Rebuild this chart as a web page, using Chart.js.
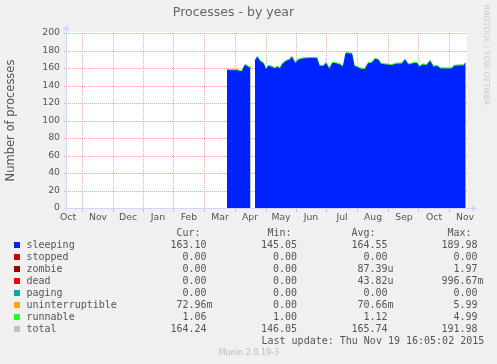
<!DOCTYPE html>
<html>
<head>
<meta charset="utf-8">
<script src="https://cdn.jsdelivr.net/npm/chart.js@4.4.1/dist/chart.umd.min.js"></script>
<style>
  html, body { margin: 0; padding: 0; background: #f0f0f0; }
</style>
</head>
<body>
<canvas id="grafico" width="497" height="364"></canvas>
<script>
// Dados do grafico (x = dias desde o inicio do periodo de um ano)
const dias = [160, 163, 170, 173, 175, 175.7, 178, 180, 182.3, 183.5, 185.5, 188, 190.3, 193, 196.3, 199, 201.3, 204.7, 208, 210.3,
  213, 215.7, 219, 222.3, 225, 228, 231.3, 236.3, 243, 249.7, 252.3, 256.3, 259, 262.3, 265.7, 269, 273, 276.3, 279, 284.7,
  287, 291.3, 294.7, 298, 301.3, 304.7, 308, 311.3, 313.7, 319.7, 324.7, 329.7, 334.7, 338, 341.3, 346.3, 349.7, 352.3, 355.7, 359.7,
  363, 366.3, 369.7, 373.7, 379.7, 384.7, 387, 393, 396.3, 398.7]
const sleeping = [157.3, 156.8, 156.8, 155.8, 155.8, 157.3, 162.8, 161.8, 159.8, 159.8, null, 167.8, 171.8, 167.3, 164.8, 157.3, 161.8, 160.8, 158.8, 160.8,
  158.8, 164.3, 167.3, 168.8, 171.8, 164.8, 168.8, 170.3, 170.8, 170.8, 161.8, 161.8, 164.8, 158.3, 165.3, 164.8, 163.3, 160.8, 176.3, 175.8,
  161.8, 159.8, 158.3, 158.3, 164.8, 165.3, 169.8, 168.8, 164.3, 163.3, 162.8, 164.3, 164.3, 168.8, 163.3, 164.8, 165.3, 160.8, 163.3, 162.8,
  167.3, 160.8, 161.8, 158.8, 158.8, 158.8, 161.8, 162.3, 162.3, 164.8]
const runnable = [1.1, 1.1, 1.1, 1.1, 1.1, 1.1, 1.2, 1.1, 1.1, 1.1, null, 1.2, 1.1, 1.1, 1.1, 1.3, 1.1, 1.1, 1.1, 1.1,
  1.1, 1.1, 1.2, 1.1, 1.1, 1.1, 1.1, 1.1, 1.2, 1.1, 1.1, 1.1, 1.1, 1.2, 1.1, 1.1, 1.1, 1.1, 1.1, 1.1,
  1.1, 1.1, 1.2, 1.1, 1.1, 1.1, 1.1, 1.1, 1.1, 1.1, 1.1, 1.1, 1.1, 1.1, 1.1, 1.1, 1.1, 1.1, 1.1, 1.1,
  1.1, 1.1, 1.1, 1.2, 1.2, 1.2, 1.1, 1.1, 1.1, 1.1]
const total = [158.5, 158, 158, 157, 157, 158.5, 164, 163, 161, 161, null, 169, 173, 168.5, 166, 158.5, 163, 162, 160, 162,
  160, 165.5, 168.5, 170, 173, 166, 170, 171.5, 172, 172, 163, 163, 166, 159.5, 166.5, 166, 164.5, 162, 177.5, 177,
  163, 161, 159.5, 159.5, 166, 166.5, 171, 170, 165.5, 164.5, 164, 165.5, 165.5, 170, 164.5, 166, 166.5, 162, 164.5, 164,
  168.5, 162, 163, 160, 160, 160, 163, 163.5, 163.5, 166]

// Eixo X: inicio de cada mes (linhas) e posicao dos rotulos
const inicioMes = [15, 45.5, 75.5, 106, 137, 168, 199, 229, 259, 290, 321, 351, 382]
const posRotulo = [1, 31, 61, 91, 122, 153, 183, 214, 244, 275, 306, 337, 367, 398]
const nomesMes = ['Oct', 'Nov', 'Dec', 'Jan', 'Feb', 'Mar', 'Apr', 'May', 'Jun', 'Jul', 'Aug', 'Sep', 'Oct', 'Nov']

// Legenda
const nomesLegenda = ['sleeping', 'stopped', 'zombie', 'dead', 'paging', 'uninterruptible', 'runnable', 'total']
const coresLegenda = ['#0022ff', '#cc0000', '#990000', '#ff0000', '#00aaaa', '#ffa500', '#22ff22', '#c0c0c0']
const valoresCur = ['163.10', '0.00', '0.00', '0.00', '0.00', '72.96m', '1.06', '164.24']
const valoresMin = ['145.05', '0.00', '0.00', '0.00', '0.00', '0.00', '1.00', '146.05']
const valoresAvg = ['164.55', '0.00', '87.39u', '43.82u', '0.00', '70.66m', '1.12', '165.74']
const valoresMax = ['189.98', '0.00', '1.97', '996.67m', '0.00', '5.99', '4.99', '191.98']

function pontos(valores) {
    let lista = []
    for (let i = 0; i < dias.length; i++) {
        lista.push({ x: dias[i], y: valores[i] })
    }
    return lista
}

const corFonte = '#555'
const corEixo = '#cfd6f8'
const gradeMaior = '#f3a9a9'
const gradeMenor = '#c8c8c8'
const nada = 'rgba(0,0,0,0)'

//Fundo cinza e area branca do grafico
const fundo = {
    id: 'fundo',
    beforeDraw(chart) {
        const c = chart.ctx, a = chart.chartArea
        c.save()
        c.fillStyle = '#f0f0f0'
        c.fillRect(0, 0, chart.width, chart.height)
        c.fillStyle = '#ffffff'
        c.fillRect(a.left, a.top - 1, a.right - a.left, a.bottom - a.top + 1)
        c.restore()
    }
}

//Grade pontilhada estilo rrdtool, nas posicoes das escalas
const grade = {
    id: 'grade',
    beforeDatasetsDraw(chart) {
        const c = chart.ctx, a = chart.chartArea
        const sx = chart.scales.x, sy = chart.scales.y
        c.save()
        // linhas horizontais
        sy.ticks.forEach(t => {
            if (t.value === 0) return
            const py = Math.round(sy.getPixelForValue(t.value))
            const maior = t.value % 20 === 0
            c.fillStyle = maior ? gradeMaior : gradeMenor
            for (let x = Math.round(a.left) + 1; x < a.right; x += 2) c.fillRect(x, py, 1, 1)
            if (maior) c.fillRect(a.left - 3, py, 2, 1)
        })
        // linhas verticais
        c.fillStyle = gradeMaior
        inicioMes.forEach(v => {
            const px = Math.round(sx.getPixelForValue(v))
            for (let y = Math.round(a.top); y < a.bottom; y += 2) c.fillRect(px, y, 1, 1)
            c.fillRect(px, a.bottom + 1, 1, 3)
        })
        c.restore()
    }
}

//Eixos com setas, legenda e textos extras
const extras = {
    id: 'extras',
    afterDraw(chart) {
        const c = chart.ctx, a = chart.chartArea
        c.save()
        c.strokeStyle = corEixo
        c.fillStyle = corEixo
        c.lineWidth = 1
        c.beginPath()
        c.moveTo(a.left - 0.5, a.bottom + 2)
        c.lineTo(a.left - 0.5, a.top - 4)
        c.moveTo(a.left - 3, a.bottom + 0.5)
        c.lineTo(a.right + 6, a.bottom + 0.5)
        c.stroke()
        c.beginPath()
        c.moveTo(a.left - 0.5, a.top - 8)
        c.lineTo(a.left - 3.5, a.top - 3)
        c.lineTo(a.left + 2.5, a.top - 3)
        c.fill()
        c.beginPath()
        c.moveTo(a.right + 10, a.bottom + 0.5)
        c.lineTo(a.right + 5, a.bottom - 2.5)
        c.lineTo(a.right + 5, a.bottom + 3.5)
        c.fill()

        // texto vertical da direita
        c.fillStyle = '#c8c8c8'
        c.font = '7.8px "DejaVu Sans"'
        c.textAlign = 'center'
        c.textBaseline = 'middle'
        c.translate(486, 55)
        c.rotate(Math.PI / 2)
        c.fillText('RRDTOOL / TOBI OETIKER', 0, 0)
        c.restore()

        // legenda
        c.save()
        c.font = '10px "DejaVu Sans Mono"'
        c.fillStyle = corFonte
        c.textBaseline = 'middle'
        c.textAlign = 'left'
        c.fillText('Cur:', 176.5, 233)
        c.fillText('Min:', 267.5, 233)
        c.fillText('Avg:', 351.5, 233)
        c.fillText('Max:', 447.5, 233)
        const colunas = [[valoresCur, 206.5], [valoresMin, 297], [valoresAvg, 387.5], [valoresMax, 477.5]]
        for (let i = 0; i < nomesLegenda.length; i++) {
            const y = 245 + i * 12
            c.fillStyle = coresLegenda[i]
            c.fillRect(14, y - 3, 6, 6)
            c.fillStyle = corFonte
            c.textAlign = 'left'
            c.fillText(nomesLegenda[i], 26.5, y)
            for (const [valores, xDir] of colunas) {
                let txt = valores[i]
                let sufixo = ''
                if (/[a-z]$/.test(txt)) {
                    sufixo = txt.slice(-1)
                    txt = txt.slice(0, -1)
                }
                c.textAlign = 'right'
                c.fillText(txt, xDir, y)
                if (sufixo) {
                    c.textAlign = 'left'
                    c.fillText(sufixo, xDir, y)
                }
            }
        }
        c.textAlign = 'left'
        c.fillText('Last update: Thu Nov 19 16:05:02 2015', 261.5, 341)
        c.fillStyle = '#bbbbbb'
        c.font = '8px "DejaVu Sans"'
        c.textAlign = 'center'
        c.fillText('Munin 2.0.19-3', 249, 353)
        c.restore()
    }
}

//Gera o grafico de processos
function CriaGrafico() {
    var ctx = document.getElementById('grafico')
    var chartGraph = new Chart(ctx, {
        type: 'line',
        data: {
            datasets: [{
                label: 'sleeping',
                data: pontos(sleeping),
                backgroundColor: '#0022ff',
                borderColor: '#0022ff',
                borderWidth: 1,
                fill: 'origin',
                stack: 'proc'
            }, {
                label: 'runnable',
                data: pontos(runnable),
                backgroundColor: '#22ff22',
                borderColor: '#22ff22',
                borderWidth: 1,
                fill: '-1',
                stack: 'proc'
            }, {
                label: 'total',
                data: pontos(total),
                borderColor: '#c0c0c0',
                borderWidth: 1.2,
                fill: false,
                stack: 'total'
            }]
        },
        options: {
            responsive: false,
            animation: false,
            spanGaps: false,
            elements: { point: { radius: 0 }, line: { tension: 0 } },
            layout: { padding: { left: 0, right: 30, top: 0, bottom: 0 } },
            plugins: {
                legend: { display: false },
                tooltip: { enabled: false },
                title: {
                    display: true,
                    text: 'Processes - by year',
                    color: '#666',
                    font: { family: 'DejaVu Sans', size: 12.5, weight: 'normal' },
                    padding: { top: 5, bottom: 13 }
                }
            },
            scales: {
                x: {
                    type: 'linear',
                    min: 0,
                    max: 400,
                    afterBuildTicks(scale) {
                        const valores = inicioMes.concat(posRotulo).sort((a, b) => a - b)
                        scale.ticks = valores.map(v => ({ value: v }))
                    },
                    afterFit(scale) { scale.height = 156 },
                    ticks: {
                        autoSkip: false,
                        maxRotation: 0,
                        padding: 4,
                        color: corFonte,
                        font: { family: 'DejaVu Sans', size: 9.3 },
                        callback(v) {
                            const i = posRotulo.indexOf(v)
                            return i >= 0 ? nomesMes[i] : ''
                        }
                    },
                    grid: { color: nada, drawTicks: false },
                    border: { display: false }
                },
                y: {
                    stacked: true,
                    min: 0,
                    max: 200,
                    afterFit(scale) { scale.width = 67 },
                    ticks: {
                        stepSize: 10,
                        padding: 7,
                        color: corFonte,
                        font: { family: 'DejaVu Sans', size: 9.3 },
                        callback: v => v % 20 === 0 ? v : ''
                    },
                    grid: { color: nada, drawTicks: false },
                    border: { display: false },
                    title: {
                        display: true,
                        text: 'Number of processes',
                        color: corFonte,
                        font: { family: 'DejaVu Sans', size: 11.5 },
                        padding: { top: 4, bottom: 0 }
                    }
                }
            }
        },
        plugins: [fundo, grade, extras]
    })
}

CriaGrafico()
</script>
</body>
</html>
